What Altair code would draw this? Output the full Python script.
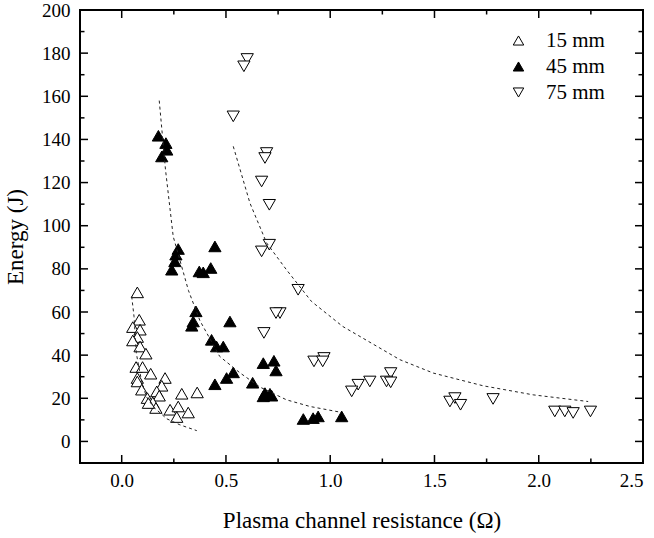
import altair as alt
import pandas as pd

# ---- data ----
labels = ["15 mm", "45 mm", "75 mm"]

r15 = [0.075, 0.084, 0.053, 0.088, 0.075, 0.053, 0.088, 0.116, 0.069, 0.100, 0.075, 0.139,
       0.075, 0.096, 0.208, 0.192, 0.168, 0.180, 0.123, 0.149, 0.164, 0.128, 0.288, 0.362,
       0.232, 0.271, 0.264, 0.319]
e15 = [69.1, 56.4, 53.0, 51.8, 48.4, 46.8, 44.0, 40.7, 34.5, 34.5, 29.4, 31.4,
       27.8, 24.0, 29.4, 25.8, 23.2, 21.2, 20.1, 18.1, 15.5, 17.8, 22.1, 22.7,
       14.7, 16.2, 11.3, 13.4]

r45 = [0.176, 0.212, 0.216, 0.192, 0.271, 0.260, 0.255, 0.240, 0.447, 0.372, 0.391, 0.427,
       0.356, 0.343, 0.336, 0.519, 0.431, 0.455, 0.487, 0.535, 0.503, 0.447, 0.628, 0.679,
       0.730, 0.740, 0.687, 0.711, 0.719, 0.679, 0.871, 0.918, 0.942, 1.055]
e45 = [141.7, 138.3, 135.2, 132.1, 89.2, 86.6, 83.5, 79.6, 90.4, 78.8, 78.4, 80.4,
       60.3, 55.6, 53.6, 55.6, 47.1, 44.0, 44.0, 32.0, 29.4, 26.5, 27.2, 36.3,
       37.4, 32.9, 22.4, 22.1, 21.2, 20.9, 10.4, 10.8, 11.6, 11.6]

r75 = [0.602, 0.586, 0.535, 0.695, 0.687, 0.671, 0.708, 0.708, 0.671, 0.846, 0.759, 0.740,
       0.682, 0.922, 0.970, 0.964, 1.290, 1.270, 1.290, 1.190, 1.134, 1.103, 1.574, 1.598,
       1.625, 1.781, 2.077, 2.125, 2.165, 2.248]
e75 = [177.3, 173.9, 150.7, 133.7, 131.4, 120.5, 109.7, 91.2, 88.1, 70.3, 59.5, 59.5,
       50.3, 37.1, 38.7, 37.1, 31.7, 27.8, 27.4, 27.8, 26.3, 23.2, 18.5, 20.1,
       17.0, 19.7, 13.9, 13.9, 13.2, 13.9]

# dotted fit curves
fit15_r = [0.048, 0.059, 0.070, 0.085, 0.100, 0.120, 0.152, 0.216, 0.279, 0.360]
fit15_e = [67.2, 58.0, 41.0, 33.0, 26.0, 20.5, 16.0, 10.5, 7.7, 5.0]
fit45_r = [0.180, 0.210, 0.247, 0.320, 0.375, 0.470, 0.567, 0.663, 0.790, 0.903, 1.046]
fit45_e = [158.0, 126.0, 95.0, 70.0, 56.0, 39.4, 31.8, 25.2, 19.3, 16.2, 13.6]
fit75_r = [0.535, 0.615, 0.695, 0.790, 0.910, 1.060, 1.334, 1.494, 1.733, 1.973, 2.237]
fit75_e = [136.8, 110.5, 92.0, 79.6, 64.9, 53.3, 37.9, 31.7, 25.8, 21.6, 18.5]

x_major = [0.0, 0.5, 1.0, 1.5, 2.0, 2.5]
x_minor = [0.25, 0.75, 1.25, 1.75, 2.25]
y_major = [0, 20, 40, 60, 80, 100, 120, 140, 160, 180, 200]
y_minor = [-10, 10, 30, 50, 70, 90, 110, 130, 150, 170, 190]

W, H = 563, 453
FONT = "Liberation Serif"

pts = pd.DataFrame({
    "R": r15 + r45 + r75,
    "E": e15 + e45 + e75,
    "series": [labels[0]] * len(r15) + [labels[1]] * len(r45) + [labels[2]] * len(r75),
})
fits = pd.DataFrame({
    "R": fit15_r + fit45_r + fit75_r,
    "E": fit15_e + fit45_e + fit75_e,
    "curve": ["a"] * len(fit15_r) + ["b"] * len(fit45_r) + ["c"] * len(fit75_r),
})

xscale = alt.Scale(domain=[-0.2, 2.5], nice=False, zero=False)
yscale = alt.Scale(domain=[-10, 200], nice=False, zero=False)

leg = alt.Legend(title=None, orient="none", legendX=428, legendY=20, padding=0,
                 labelFont=FONT, labelFontSize=21, labelColor="black",
                 symbolSize=110, symbolStrokeColor="black", symbolStrokeWidth=1,
                 rowPadding=4, labelOffset=17)

points = alt.Chart(pts).mark_point(
    strokeWidth=1, opacity=1, fillOpacity=1, size=150
).encode(
    x=alt.X("R:Q", scale=xscale,
            axis=alt.Axis(title="Plasma channel resistance (Ω)", values=x_major, format=".1f",
                          ticks=False, tickSize=0, domain=False, grid=False,
                          labelPadding=8, titlePadding=19)),
    y=alt.Y("E:Q", scale=yscale,
            axis=alt.Axis(title="Energy (J)", values=y_major, ticks=False, tickSize=0,
                          domain=False, grid=False, labelPadding=10, titlePadding=14)),
    shape=alt.Shape("series:N", scale=alt.Scale(domain=labels,
                    range=["triangle-up", "triangle-up", "triangle-down"]), legend=leg),
    fill=alt.Fill("series:N", scale=alt.Scale(domain=labels,
                  range=["white", "black", "white"]), legend=leg),
    stroke=alt.Stroke("series:N", scale=alt.Scale(domain=labels,
                      range=["black", "black", "black"]), legend=leg),
)

curves = alt.Chart(fits).mark_line(color="#222222", strokeWidth=1, strokeDash=[3, 3]).encode(
    x=alt.X("R:Q", scale=xscale, axis=None),
    y=alt.Y("E:Q", scale=yscale, axis=None),
    detail="curve:N",
)

def xticks(vals, length):
    d = pd.DataFrame({"v": vals})
    bot = alt.Chart(d).mark_rule(color="black", strokeWidth=1.5).encode(
        x=alt.X("v:Q", scale=xscale, axis=None), y=alt.value(H), y2=alt.value(H - length))
    top = alt.Chart(d).mark_rule(color="black", strokeWidth=1.5).encode(
        x=alt.X("v:Q", scale=xscale, axis=None), y=alt.value(0), y2=alt.value(length))
    return [bot, top]

def yticks(vals, length):
    d = pd.DataFrame({"v": vals})
    lft = alt.Chart(d).mark_rule(color="black", strokeWidth=1.5).encode(
        y=alt.Y("v:Q", scale=yscale, axis=None), x=alt.value(0), x2=alt.value(length))
    rgt = alt.Chart(d).mark_rule(color="black", strokeWidth=1.5).encode(
        y=alt.Y("v:Q", scale=yscale, axis=None), x=alt.value(W), x2=alt.value(W - length))
    return [lft, rgt]

tick_layers = xticks(x_major, 8) + xticks(x_minor, 4.5) + yticks(y_major, 8) + yticks(y_minor, 4.5)

chart = alt.layer(points, curves, *tick_layers).resolve_axis(
    x="independent", y="independent"
).properties(
    width=W, height=H,
    background="white",
    autosize=alt.AutoSizeParams(type="none"),
    padding={"left": 80, "top": 10, "right": 11, "bottom": 75},
).configure_view(
    stroke="black", strokeWidth=2
).configure_axis(
    labelFont=FONT, labelFontSize=19, labelColor="black",
    titleFont=FONT, titleFontSize=23, titleFontWeight="normal", titleColor="black",
)

chart.save("out.html", embed_options={"renderer": "svg", "actions": False})
